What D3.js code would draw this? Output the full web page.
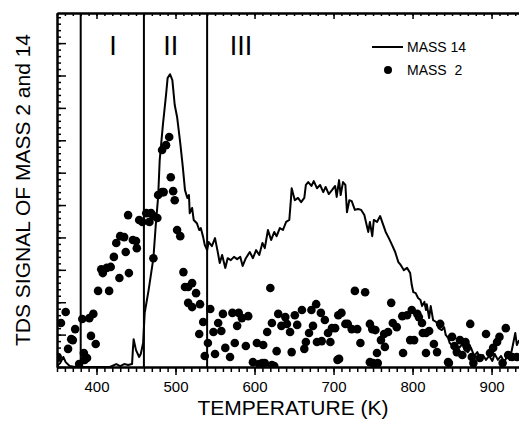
<!DOCTYPE html>
<html>
<head>
<meta charset="utf-8">
<script src="https://cdn.jsdelivr.net/npm/d3@7"></script>
<style>
  body { margin: 0; background: #fff; }
  text { font-family: "Liberation Sans", Arial, sans-serif; fill: #000; }
</style>
</head>
<body>
<div id="chart"></div>
<script>
// MASS 14 trace (temperature K, signal)
m14T = [350,354,358,361,366,373,392,417,425,430,435,440,445,446,447,450,454,456,459,461,466,472,475,478,480,484,488,490,493,496,499,502,506,509,512,515,517,518,521,523,527,530,532,535,537,540,542,546,550,553,556,559,563,566,570,574,578,582,585,589,594,598,602,606,610,613,617,621,625,628,632,636,640,644,646,647,651,655,659,663,665,668,672,675,679,683,687,690,694,698,702,704,707,709,712,715,717,720,723,727,731,735,739,741,744,746,749,751,755,759,763,766,770,774,778,782,785,789,793,797,799,801,804,807,810,812,815,817,818,821,823,826,830,833,837,840,842,845,847,851,855,859,863,866,870,874,878,882,885,889,893,897,901,904,908,912,916,920,923,927,930,932,935]
m14 = [0.03,0.12,0.31,0.15,0.03,0,0,0,0.09,0.03,0.09,0.06,0.09,0.52,0.86,0.52,0.31,0.40,0.74,1.67,2.38,3.36,4.38,5.25,6.39,7.47,8.40,8.92,9.04,8.86,8.09,7.72,6.91,6.23,5.46,5.22,5.31,4.75,4.91,4.54,4.44,4.23,4.29,4.01,3.77,3.61,3.86,3.73,3.98,3.61,3.21,3.46,3.06,3.36,3.30,3.40,3.33,3.40,3.12,3.36,3.55,3.36,3.61,3.46,3.83,3.67,4.23,3.92,4.17,4.04,4.29,4.23,4.48,4.54,5.15,5.52,5.15,5.22,5.09,5.22,5.62,5.71,5.59,5.74,5.52,5.62,5.40,5.56,5.34,5.46,5.59,5.25,5.77,5.31,5.71,5.62,4.78,5.15,5.12,4.85,4.88,4.85,4.69,4.48,4.17,4.48,4.04,4.54,4.48,4.66,4.38,4.17,3.98,3.77,3.55,3.24,3.15,2.99,3.06,2.90,2.53,2.31,2.28,2.13,2.07,1.88,2.01,1.76,1.94,1.51,1.88,1.45,1.39,1.20,1.14,1.23,0.99,0.90,0.74,0.65,0.68,0.59,0.71,0.52,0.46,0.59,0.34,0.46,0.28,0.37,0.22,0.34,0.19,0.40,0.22,0.34,0.15,0.34,0.22,0.68,1.05,0.68,0.83]

// MASS 2 points (temperature K, signal)
m2T = [351,355,361,364,368,370,373,378,382,384,388,391,393,396,399,402,406,408,413,416,418,422,425,429,430,435,437,440,441,446,450,451,454,458,463,467,469,472,477,472,478,483,485,497,499,502,506,510,512,516,521,516,521,526,531,535,530,544,541,537,548,550,554,558,560,563,569,572,575,578,580,
  492,488,483,494,
  584,589,592,598,603,606,
  620,616,622,611,613,625,628,630,634,639,641,645,647,651,654,660,663,665,669,672,674,678,679,684,685,689,693,696,698,702,706,710,707,715,718,723,727,730,734,740,746,749,753,755,760,764,765,750,756,773,769,775,780,787,788,793,799,797,802,806,808,812,813,817,821,817,827,831,835,846,850,853,856,860,863,867,869,873,875,885,893,898,902,907,910,918,921,926,932,
  385,705,746,845,877,914,610,622]
m2 = [0.31,1.36,1.70,0.56,0.86,0.83,1.17,0.09,1.48,0.43,0.28,1.51,0.96,1.64,0.71,2.35,3.02,2.90,3.06,2.35,3.09,3.40,3.83,2.75,4.04,4.01,3.55,4.69,2.90,3.92,3.89,3.67,4.54,4.48,4.75,4.48,4.75,4.66,4.60,3.36,5.31,5.40,5.40,5.43,5.15,4.23,4.04,2.93,2.47,2.47,2.59,1.98,1.85,2.28,1.94,1.39,1.02,1.79,0.74,0.34,1.08,0.40,1.36,1.11,1.64,0.59,0.31,1.67,0.74,1.27,1.67,
  7.10,6.85,6.70,5.86,
  1.51,0.65,1.57,0.15,0.74,0.09,
  2.44,1.08,1.36,0.68,0.12,0.03,0.49,1.64,1.27,1.54,1.33,1.08,0.46,1.60,1.30,1.76,0.56,0.77,1.05,1.76,1.27,1.94,0.77,1.67,0.80,1.45,1.05,0.77,1.20,1.20,1.60,1.67,0.25,1.33,1.33,1.17,2.35,1.17,0.74,2.31,1.33,1.17,1.14,0.43,0.83,1.02,0.62,0.12,0.12,1.98,1.08,1.36,1.23,1.57,0.43,1.60,1.76,0.83,0.83,1.64,1.54,1.36,1.05,1.05,1.11,0.43,0.71,0.46,1.33,0.12,0.93,0.65,0.46,0.83,0.37,0.77,0.62,1.33,0.31,0.28,1.02,0.43,0.59,0.77,0.93,1.20,0.37,0.31,0.31,
  0.22,0.22,0.15,0.15,0.12,0.12,0.12,0.06]

regionLines = [380, 460, 540]
regionLabels = ["I", "II", "III"]
regionLabelT = [421, 494, 583]
xTicks = [400, 500, 600, 700, 800, 900]

W = 519, H = 425
margin = {top: 13, left: 57, bottom: 58}

svg = d3.select("#chart").append("svg")
  .attr("width", W).attr("height", H)

x = d3.scaleLinear().domain([350, 936]).range([margin.left, 520])
y = d3.scaleLinear().domain([0, 10.93]).range([H - margin.bottom, margin.top])

minorX = d3.range(350, 936, 10)
minorY = d3.range(0, 10.9, 0.2)

function styleAxis(g) {
  g.select(".domain").attr("stroke-width", 2)
  g.selectAll(".tick line").attr("stroke-width", 1.5)
  g.selectAll(".tick text").style("font-size", "15px").style("font-family", "Liberation Sans, Arial, sans-serif")
}

// bottom axis
svg.append("g")
  .attr("transform", `translate(0, ${y(0)})`)
  .call(d3.axisBottom(x).tickValues(minorX).tickSize(5).tickSizeOuter(0).tickFormat(""))
  .call(styleAxis)
svg.append("g")
  .attr("transform", `translate(0, ${y(0)})`)
  .call(d3.axisBottom(x).tickValues(xTicks).tickSize(8).tickSizeOuter(0).tickPadding(6).tickFormat(d3.format("d")))
  .call(styleAxis)

// top axis, ticks inward
svg.append("g")
  .attr("transform", `translate(0, ${margin.top})`)
  .call(d3.axisTop(x).tickValues(minorX).tickSize(-3).tickSizeOuter(0).tickFormat(""))
  .call(styleAxis)
svg.append("g")
  .attr("transform", `translate(0, ${margin.top})`)
  .call(d3.axisTop(x).tickValues(xTicks).tickSize(-6).tickSizeOuter(0).tickFormat(""))
  .call(styleAxis)

// left axis, ticks inward, no labels
svg.append("g")
  .attr("transform", `translate(${margin.left}, 0)`)
  .call(d3.axisLeft(y).tickValues(minorY).tickSize(-4).tickSizeOuter(0).tickFormat(""))
  .call(styleAxis)
svg.append("g")
  .attr("transform", `translate(${margin.left}, 0)`)
  .call(d3.axisLeft(y).tickValues(d3.range(0, 11, 1)).tickSize(-9).tickSizeOuter(0).tickFormat(""))
  .call(styleAxis)

// clip
svg.append("clipPath").attr("id", "plot")
  .append("rect")
  .attr("x", margin.left).attr("y", margin.top)
  .attr("width", 520 - margin.left).attr("height", y(0) - margin.top)

// region separators
svg.selectAll(".region")
  .data(regionLines)
  .join("line")
    .attr("x1", d => x(d)).attr("x2", d => x(d))
    .attr("y1", margin.top).attr("y2", y(0))
    .attr("stroke", "#000").attr("stroke-width", 2)

svg.selectAll(".rlabel")
  .data(regionLabels)
  .join("text")
    .attr("x", (d, i) => x(regionLabelT[i]))
    .attr("y", 55)
    .attr("text-anchor", "middle")
    .style("font-size", "27px")
    .text(d => d)

plot = svg.append("g").attr("clip-path", "url(#plot)")

line = d3.line().x(d => x(d[0])).y(d => y(d[1]))
plot.append("path")
  .datum(d3.zip(m14T, m14))
  .attr("d", line)
  .attr("fill", "none")
  .attr("stroke", "#000")
  .attr("stroke-width", 2)
  .attr("stroke-linejoin", "round")

plot.selectAll("circle")
  .data(d3.zip(m2T, m2))
  .join("circle")
    .attr("cx", d => x(d[0]))
    .attr("cy", d => y(d[1]))
    .attr("r", 4.3)
    .attr("fill", "#000")

// legend
lg = svg.append("g")
lg.append("line").attr("x1", 372).attr("x2", 403).attr("y1", 47).attr("y2", 47)
  .attr("stroke", "#000").attr("stroke-width", 2)
lg.append("text").attr("x", 407).attr("y", 52).style("font-size", "14px").text("MASS 14")
lg.append("circle").attr("cx", 388).attr("cy", 70).attr("r", 4).attr("fill", "#000")
lg.append("text").attr("x", 407).attr("y", 75).style("font-size", "14px")
  .attr("xml:space", "preserve").style("white-space", "pre").text("MASS  2")

// axis titles
svg.append("text")
  .attr("x", 293).attr("y", 415)
  .attr("text-anchor", "middle")
  .style("font-size", "21px")
  .text("TEMPERATURE (K)")

svg.append("text")
  .attr("transform", "translate(30, 190) rotate(-90)")
  .attr("text-anchor", "middle")
  .style("font-size", "21px")
  .text("TDS SIGNAL OF MASS 2 and 14")
</script>
</body>
</html>
